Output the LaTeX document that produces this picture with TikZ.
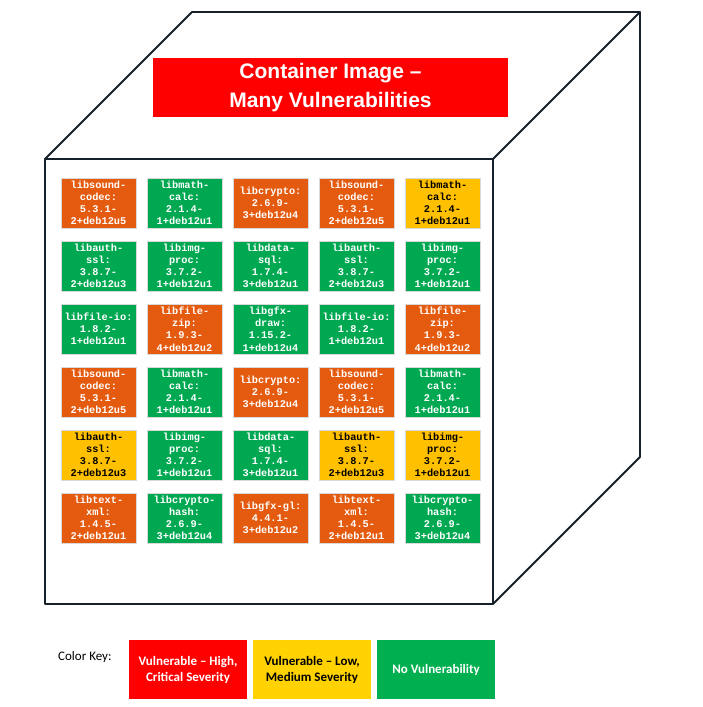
\documentclass[tikz,border=0pt]{standalone}
\usepackage{fontspec}
\setmainfont{Liberation Sans}
\newfontfamily\monofnt{Liberation Mono}
\newfontfamily\keyfnt{Carlito}
\definecolor{tileorange}{RGB}{228,90,14}
\definecolor{tilegreen}{RGB}{0,168,82}
\definecolor{tileyellow}{RGB}{255,192,0}
\definecolor{keyred}{RGB}{255,0,0}
\definecolor{keyyellow}{RGB}{255,210,0}
\definecolor{keygreen}{RGB}{0,176,80}
\definecolor{edgecol}{RGB}{22,32,42}
\tikzset{
  edge/.style={draw=edgecol, line width=1.8pt, line join=round},
  tilebox/.style={minimum width=75pt, minimum height=50pt, inner sep=0pt,
    align=center, font=\monofnt\bfseries\fontsize{10.3}{12.2}\selectfont, draw=white!85!black, line width=0.4pt},
  tO/.style={tilebox, fill=tileorange, text=white},
  tG/.style={tilebox, fill=tilegreen, text=white},
  tY/.style={tilebox, fill=tileyellow, text=black},
  keybox/.style={minimum width=118pt, minimum height=59pt, inner sep=0pt, align=center,
    font=\keyfnt\bfseries\fontsize{13}{16}\selectfont}
}
\newcommand{\mytile}[4]{\node[#3] (t#1#2) at ({98.5+86*(#2-1)}, {203+63*(#1-1)}) {#4};}
\begin{document}
\begin{tikzpicture}[x=1pt,y=-1pt]
\useasboundingbox (0,0) rectangle (702,707);
% cube
\coordinate (ftl) at (45,159);
\coordinate (ftr) at (493,159);
\coordinate (fbl) at (45,604);
\coordinate (fbr) at (493,604);
\coordinate (btl) at (192,12);
\coordinate (btr) at (640,12);
\coordinate (bbr) at (640,457);
\draw[edge] (ftl) -- (btl) -- (btr) -- (ftr);
\draw[edge] (btr) -- (bbr) -- (fbr);
\draw[edge] (ftl) rectangle (fbr);
% title
\node[fill=keyred, text=white, minimum width=355pt, minimum height=59pt, inner sep=0pt,
  align=center, font=\bfseries\fontsize{21}{29}\selectfont] (title) at (330.5,87.5)
  {Container Image –\\Many Vulnerabilities};
% tiles
\mytile{1}{1}{tO}{libsound-\\codec:\\5.3.1-\\2+deb12u5}
\mytile{1}{2}{tG}{libmath-\\calc:\\2.1.4-\\1+deb12u1}
\mytile{1}{3}{tO}{libcrypto:\\2.6.9-\\3+deb12u4}
\mytile{1}{4}{tO}{libsound-\\codec:\\5.3.1-\\2+deb12u5}
\mytile{1}{5}{tY}{libmath-\\calc:\\2.1.4-\\1+deb12u1}
\mytile{2}{1}{tG}{libauth-\\ssl:\\3.8.7-\\2+deb12u3}
\mytile{2}{2}{tG}{libimg-\\proc:\\3.7.2-\\1+deb12u1}
\mytile{2}{3}{tG}{libdata-\\sql:\\1.7.4-\\3+deb12u1}
\mytile{2}{4}{tG}{libauth-\\ssl:\\3.8.7-\\2+deb12u3}
\mytile{2}{5}{tG}{libimg-\\proc:\\3.7.2-\\1+deb12u1}
\mytile{3}{1}{tG}{libfile-io:\\1.8.2-\\1+deb12u1}
\mytile{3}{2}{tO}{libfile-\\zip:\\1.9.3-\\4+deb12u2}
\mytile{3}{3}{tG}{libgfx-\\draw:\\1.15.2-\\1+deb12u4}
\mytile{3}{4}{tG}{libfile-io:\\1.8.2-\\1+deb12u1}
\mytile{3}{5}{tO}{libfile-\\zip:\\1.9.3-\\4+deb12u2}
\mytile{4}{1}{tO}{libsound-\\codec:\\5.3.1-\\2+deb12u5}
\mytile{4}{2}{tG}{libmath-\\calc:\\2.1.4-\\1+deb12u1}
\mytile{4}{3}{tO}{libcrypto:\\2.6.9-\\3+deb12u4}
\mytile{4}{4}{tO}{libsound-\\codec:\\5.3.1-\\2+deb12u5}
\mytile{4}{5}{tG}{libmath-\\calc:\\2.1.4-\\1+deb12u1}
\mytile{5}{1}{tY}{libauth-\\ssl:\\3.8.7-\\2+deb12u3}
\mytile{5}{2}{tG}{libimg-\\proc:\\3.7.2-\\1+deb12u1}
\mytile{5}{3}{tG}{libdata-\\sql:\\1.7.4-\\3+deb12u1}
\mytile{5}{4}{tY}{libauth-\\ssl:\\3.8.7-\\2+deb12u3}
\mytile{5}{5}{tY}{libimg-\\proc:\\3.7.2-\\1+deb12u1}
\mytile{6}{1}{tO}{libtext-\\xml:\\1.4.5-\\2+deb12u1}
\mytile{6}{2}{tG}{libcrypto-\\hash:\\2.6.9-\\3+deb12u4}
\mytile{6}{3}{tO}{libgfx-gl:\\4.4.1-\\3+deb12u2}
\mytile{6}{4}{tO}{libtext-\\xml:\\1.4.5-\\2+deb12u1}
\mytile{6}{5}{tG}{libcrypto-\\hash:\\2.6.9-\\3+deb12u4}
% legend
\node[font=\keyfnt\fontsize{13}{15}\selectfont, anchor=west, inner sep=0pt] (keylbl) at (58,657) {Color Key:};
\node[keybox, fill=keyred, text=white] (khigh) at (188,669.5) {Vulnerable – High,\\Critical Severity};
\node[keybox, fill=keyyellow, text=black] (klow) at (312,669.5) {Vulnerable – Low,\\Medium Severity};
\node[keybox, fill=keygreen, text=white] (knone) at (436,669.5) {No Vulnerability};
\end{tikzpicture}
\end{document}
